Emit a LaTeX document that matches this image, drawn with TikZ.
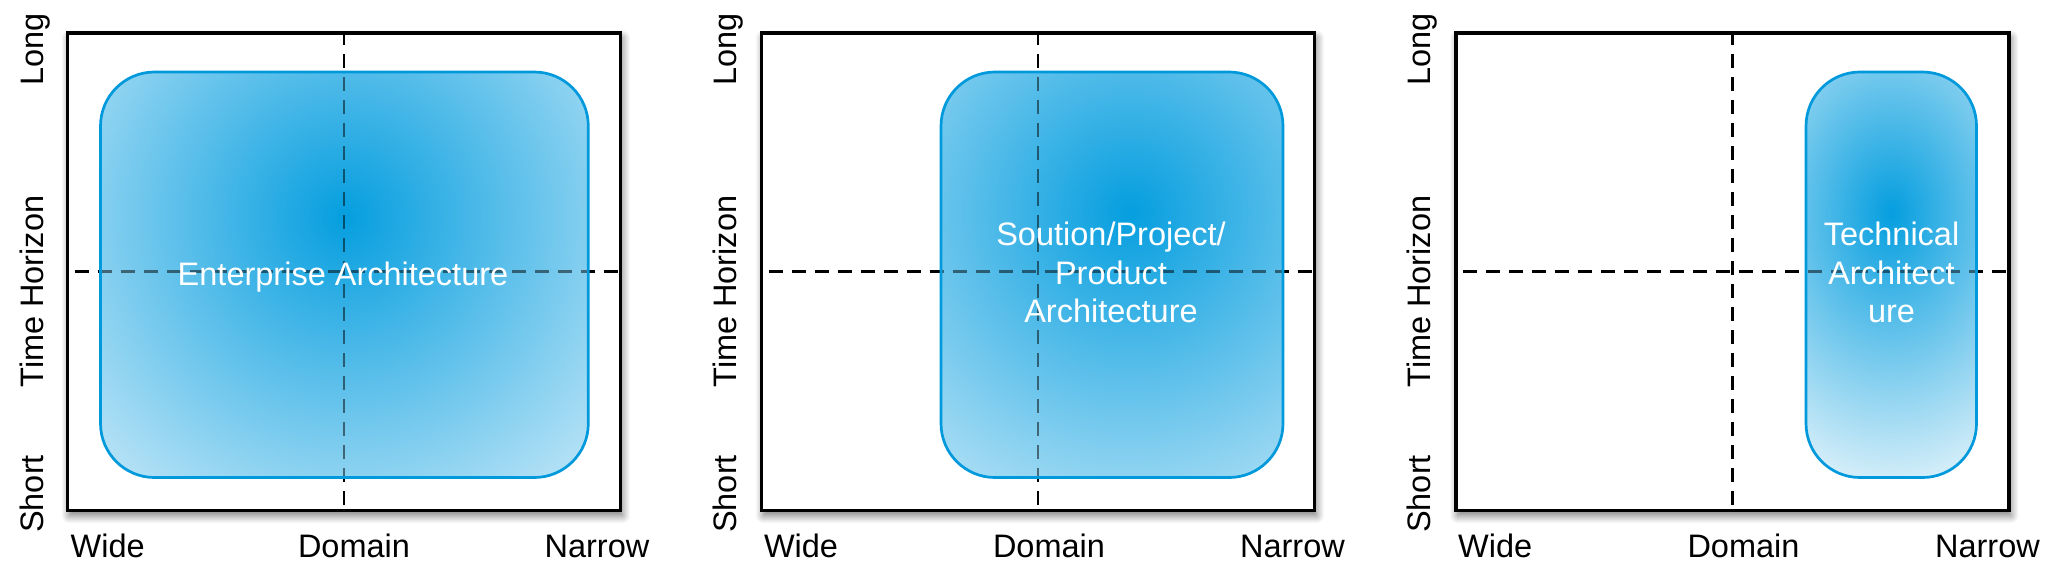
\documentclass[tikz,border=0pt]{standalone}
\usepackage{fontspec}
\setmainfont{Liberation Sans}
\usetikzlibrary{shadows.blur}
\definecolor{archblue}{RGB}{5,158,223}
\definecolor{archlight}{RGB}{182,226,246}
\definecolor{archpale}{RGB}{228,244,251}
\definecolor{archline}{RGB}{0,153,220}
\begin{document}
\begin{tikzpicture}[x=1pt,y=-1pt,
  every node/.style={font=\fontsize{32.5pt}{38.5pt}\selectfont, inner sep=0pt},
  panelframe/.style={draw=black, line width=3.4pt, fill=white,
    minimum width=553pt, minimum height=477.5pt,
    blur shadow={shadow xshift=2pt, shadow yshift=-5pt, shadow blur radius=8pt,
                 shadow blur steps=12, shadow opacity=55}},
  quad/.style={draw=black, line width=2.7pt, dash pattern=on 14pt off 9pt},
  quadthin/.style={quad, draw opacity=0.5},
  archbox/.style={draw=archline, line width=2.7pt, rounded corners=54pt, minimum height=405.5pt},
  boxtext/.style={text=white, align=center},
  axislabel/.style={text=black},
]
\useasboundingbox (0,0) rectangle (2049,574);

% frames
\node[panelframe] (f1) at (343.9,271.75) {};
\node[panelframe] (f2) at (1037.9,271.75) {};
\node[panelframe] (f3) at (1732.3,271.75) {};

% quadrant lines
\foreach \f in {f1,f2,f3}{
  \draw[quad] (\f.north) -- (\f.south);
  \draw[quad] ([xshift=9pt]\f.west) -- (\f.east);
}

% architecture boxes
\node[archbox, minimum width=487.8pt, path picture={
    \shade[inner color=archblue, outer color=archlight]
      ([shift={(-339.4,-397.75)}]path picture bounding box.center) rectangle
      ([shift={(340.6,282.25)}]path picture bounding box.center);
    \draw[quadthin] (f1.north) -- (f1.south);
    \draw[quadthin] ([xshift=9pt]f1.west) -- (f1.east);
  }] (a1) at (344.4,274.75) {};
\node[archbox, minimum width=342pt, path picture={
    \shade[inner color=archblue, outer color=archlight]
      ([shift={(-322,-402.75)}]path picture bounding box.center) rectangle
      ([shift={(358,277.25)}]path picture bounding box.center);
    \draw[quadthin] (f2.north) -- (f2.south);
    \draw[quadthin] ([xshift=9pt]f2.west) -- (f2.east);
  }] (a2) at (1112,274.75) {};
\node[archbox, minimum width=170.5pt, path picture={
    \shade[inner color=archblue, outer color=archpale]
      ([shift={(-210,-351.75)}]path picture bounding box.center) rectangle
      ([shift={(210,228.25)}]path picture bounding box.center);
    \draw[quadthin] (f3.north) -- (f3.south);
    \draw[quadthin] ([xshift=9pt]f3.west) -- (f3.east);
  }] (a3) at (1891.25,274.75) {};

% box texts
\node[boxtext, anchor=base] (t1) at (343,285) {Enterprise Architecture};
\node[boxtext] (t2) at (1111,272.5) {Soution/Project/\\Product\\Architecture};
\node[boxtext] (t3) at (1891.5,272.5) {Technical\\Architect\\ure};

% axis labels panel 1
\node[axislabel, anchor=base west] (w1) at (70.5,557) {Wide};
\node[axislabel, anchor=base] (d1) at (354,557) {Domain};
\node[axislabel, anchor=base east] (n1) at (649.5,557) {Narrow};
\node[axislabel, rotate=90, anchor=base east] (l1) at (43.7,13) {Long};
\node[axislabel, rotate=90, anchor=base] (h1) at (43.7,291.6) {Time Horizon};
\node[axislabel, rotate=90, anchor=base west] (s1) at (43.7,533) {Short};

% axis labels panel 2
\node[axislabel, anchor=base west] (w2) at (763.8,557) {Wide};
\node[axislabel, anchor=base] (d2) at (1049,557) {Domain};
\node[axislabel, anchor=base east] (n2) at (1345,557) {Narrow};
\node[axislabel, rotate=90, anchor=base east] (l2) at (736.8,13) {Long};
\node[axislabel, rotate=90, anchor=base] (h2) at (736.8,291.6) {Time Horizon};
\node[axislabel, rotate=90, anchor=base west] (s2) at (736.8,533) {Short};

% axis labels panel 3
\node[axislabel, anchor=base west] (w3) at (1458,557) {Wide};
\node[axislabel, anchor=base] (d3) at (1743.5,557) {Domain};
\node[axislabel, anchor=base east] (n3) at (2040,557) {Narrow};
\node[axislabel, rotate=90, anchor=base east] (l3) at (1430.7,13) {Long};
\node[axislabel, rotate=90, anchor=base] (h3) at (1430.7,291.6) {Time Horizon};
\node[axislabel, rotate=90, anchor=base west] (s3) at (1430.7,533) {Short};
\end{tikzpicture}
\end{document}
